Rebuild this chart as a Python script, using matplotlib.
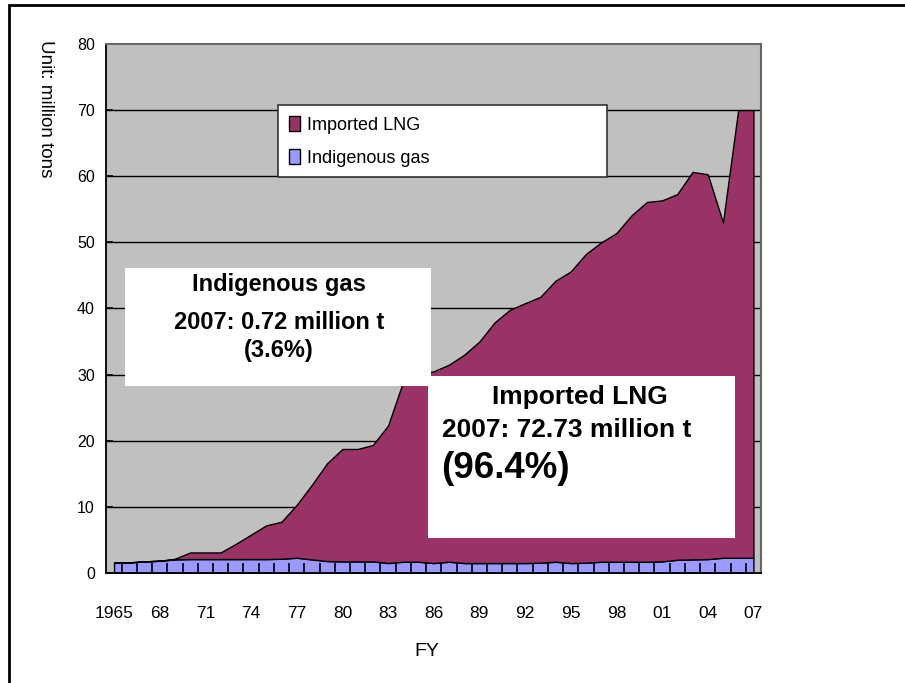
import matplotlib
matplotlib.use("Agg")
import matplotlib.pyplot as plt
from matplotlib.patches import Rectangle

plt.rcParams['font.family'] = ['Liberation Sans', 'DejaVu Sans']

# fiscal years
years = list(range(1965, 2008))

# indigenous gas, million tons
indigenous = [1.56, 1.6, 1.75, 1.85, 2.05, 2.1, 2.1, 2.1, 2.1, 2.1,
              2.1, 2.15, 2.3, 2.05, 1.8, 1.75, 1.75, 1.75, 1.5, 1.7,
              1.7, 1.5, 1.7, 1.5, 1.5, 1.5, 1.5, 1.5, 1.55, 1.7,
              1.5, 1.55, 1.7, 1.7, 1.7, 1.7, 1.75, 2.0, 2.05, 2.1,
              2.3, 2.3, 2.3]

# imported LNG, million tons (stacked on top of indigenous)
imported_lng = [0, 0, 0, 0, 0.1, 1.0, 1.0, 1.0, 2.3, 3.7,
                5.1, 5.6, 8.0, 11.3, 14.8, 17.0, 17.0, 17.6, 20.8, 27.3,
                28.3, 29.0, 29.8, 31.5, 33.5, 36.4, 38.3, 39.3, 40.2, 42.5,
                44.1, 46.7, 48.3, 49.7, 52.4, 54.4, 54.6, 55.3, 58.6, 58.2,
                50.7, 67.7, 67.7]

tick_years = list(range(1965, 2008, 3))
tick_labels = ['1965', '68', '71', '74', '77', '80', '83', '86',
               '89', '92', '95', '98', '01', '04', '07']

LNG_COLOR = '#993366'
IND_COLOR = '#9999FF'

fig = plt.figure(figsize=(9.05, 6.83), dpi=100)
ax = fig.add_axes([0.1171, 0.1611, 0.7238, 0.7745])
ax.set_facecolor('#C0C0C0')

# gridlines below the areas
for v in range(10, 80, 10):
    ax.axhline(v, color='black', lw=1, zorder=0.8)

polys = ax.stackplot(years, indigenous, imported_lng,
                     colors=[IND_COLOR, LNG_COLOR], edgecolor='black',
                     linewidth=1, labels=['Indigenous gas', 'Imported LNG'],
                     zorder=1)

ax.set_xlim(1964.47, 2007.5)
ax.set_ylim(0, 80)
ax.set_yticks(range(0, 90, 10))
ax.tick_params(axis='y', direction='in', length=5, width=1.2,
               labelsize=11.5, pad=8)

ax.set_xticks(tick_years)
ax.set_xticklabels(tick_labels)
ax.set_xticks([y + 0.5 for y in years[:-1]], minor=True)
ax.tick_params(axis='x', which='major', length=0, labelsize=12.5, pad=24)
ax.tick_params(axis='x', which='minor', direction='in', length=7, width=1.2,
               color='black')

for s in ['left', 'bottom']:
    ax.spines[s].set_color('black')
    ax.spines[s].set_linewidth(1.3)
for s in ['top', 'right']:
    ax.spines[s].set_color('#666666')
    ax.spines[s].set_linewidth(1.5)

# legend (LNG first)
handles = [polys[1], polys[0]]
leg = ax.legend(handles, ['Imported LNG', 'Indigenous gas'],
                loc='upper left', bbox_to_anchor=(0.2626, 0.7524, 0.5023, 0.1323),
                mode='expand', fontsize=13, handlelength=0.6, handleheight=0.9,
                handletextpad=0.4, borderpad=0.6, labelspacing=0.85,
                borderaxespad=0, fancybox=False, framealpha=1)
leg.get_frame().set_edgecolor('#333333')
leg.get_frame().set_linewidth(1.2)
leg.set_zorder(5)

# annotation boxes (pixel coordinates of the figure)
W, H = 905, 683


def fx(px):
    return px / W


def fy(py):
    return 1 - py / H


box1 = Rectangle((fx(125), fy(386)), fx(431) - fx(125), fy(268) - fy(386),
                 transform=fig.transFigure, facecolor='white', edgecolor='none',
                 zorder=3)
box2 = Rectangle((fx(428), fy(538)), fx(735) - fx(428), fy(376) - fy(538),
                 transform=fig.transFigure, facecolor='white', edgecolor='none',
                 zorder=3)
fig.patches.extend([box1, box2])

fig.text(fx(279), fy(285), 'Indigenous gas', ha='center', va='center',
         fontsize=17, fontweight='bold', zorder=6)
fig.text(fx(279), fy(322), '2007: 0.72 million t', ha='center', va='center',
         fontsize=17, fontweight='bold', zorder=6)
fig.text(fx(279), fy(350), '(3.6%)', ha='center', va='center',
         fontsize=17, fontweight='bold', zorder=6)

fig.text(fx(580), fy(397), 'Imported LNG', ha='center', va='center',
         fontsize=19, fontweight='bold', zorder=6)
fig.text(fx(442), fy(430), '2007: 72.73 million t', ha='left', va='center',
         fontsize=19, fontweight='bold', zorder=6)
fig.text(fx(441), fy(468), '(96.4%)', ha='left', va='center',
         fontsize=26.5, fontweight='bold', zorder=6)

# axis titles
fig.text(fx(45), fy(40), 'Unit: million tons', rotation=270, ha='center',
         va='top', fontsize=13.5)
fig.text(fx(427), fy(652), 'FY', ha='center', va='center', fontsize=14)

# outer frame (left and top edges visible)
frame = Rectangle((fx(9), -0.2), 1.2, fy(5) + 0.2, transform=fig.transFigure,
                  fill=False, edgecolor='black', linewidth=2, clip_on=False)
fig.patches.append(frame)

fig.savefig('out.png', dpi=100)
